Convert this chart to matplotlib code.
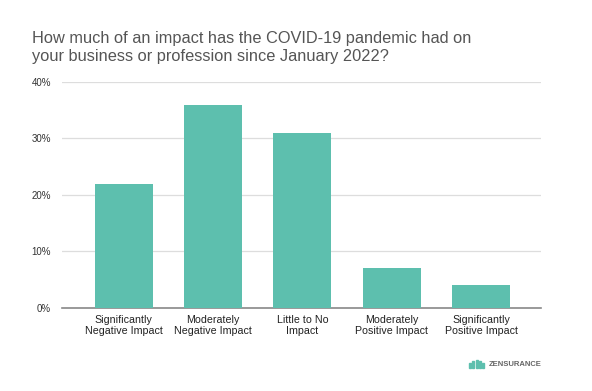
import matplotlib.pyplot as plt
from matplotlib.patches import Rectangle

plt.rcParams['font.family'] = ['Liberation Sans', 'DejaVu Sans']

categories = ['Significantly\nNegative Impact', 'Moderately\nNegative Impact',
              'Little to No\nImpact', 'Moderately\nPositive Impact',
              'Significantly\nPositive Impact']
values = [22, 36, 31, 7, 4]
y_ticks = [0, 10, 20, 30, 40]
y_tick_labels = ['0%', '10%', '20%', '30%', '40%']

bar_color = '#5dbfae'

fig = plt.figure(figsize=(5.92, 3.91), dpi=100)
ax = fig.add_axes([62 / 592, 1 - 307.7 / 391, 479 / 592, 225.7 / 391])

x = list(range(len(categories)))
ax.bar(x, values, width=0.65, color=bar_color, zorder=3)

ax.set_xlim(-0.69, 4.67)
ax.set_ylim(0, 40)
ax.set_yticks(y_ticks)
ax.set_yticklabels(y_tick_labels, fontsize=7, color='#333333')
ax.set_xticks(x)
ax.set_xticklabels(categories, fontsize=7.7, color='#222222', linespacing=1.15)
ax.tick_params(axis='both', length=0)
ax.tick_params(axis='y', pad=8)
ax.tick_params(axis='x', pad=5)
ax.grid(axis='y', color='#dddddd', linewidth=0.9, zorder=0)
for side in ['top', 'right', 'left']:
    ax.spines[side].set_visible(False)
ax.spines['bottom'].set_color('#888888')
ax.spines['bottom'].set_linewidth(1.2)

fig.text(32 / 592, 1 - 31.5 / 391,
         'How much of an impact has the COVID-19 pandemic had on\nyour business or profession since January 2022?',
         fontsize=11.8, color='#555555', va='top', ha='left', linespacing=1.2)

# logo
for i, h in enumerate([0.013, 0.018, 0.020, 0.018, 0.013]):
    fig.patches.append(Rectangle((469 / 592 + i * 0.0055, 1 - 368 / 391), 0.0035, h,
                                 transform=fig.transFigure, color=bar_color))
fig.text(489 / 592, 1 - 364 / 391, 'ZENSURANCE', fontsize=5.5, color='#666666',
         va='center', ha='left', fontweight='bold')

fig.savefig('out.png', dpi=100)
